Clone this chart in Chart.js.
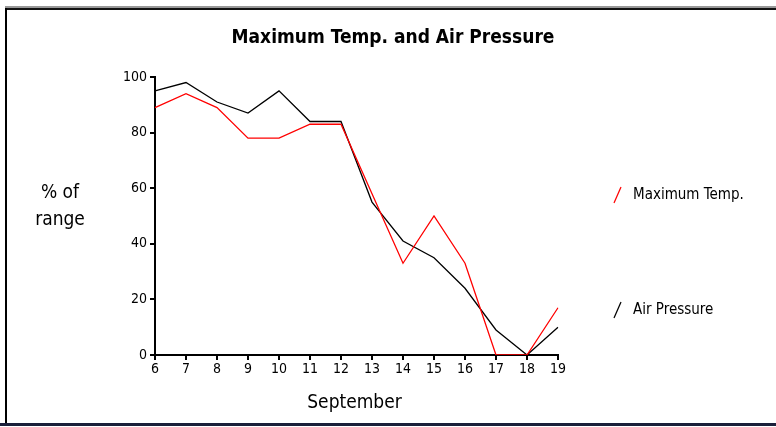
<!DOCTYPE html>
<html>
<head>
<meta charset="utf-8">
<script src="https://cdn.jsdelivr.net/npm/chart.js@4"></script>
<style>
  html, body { margin: 0; padding: 0; background: #fff; overflow: hidden; }
  #wrap { position: relative; width: 776px; height: 427px; overflow: hidden; }
  .rule { position: absolute; }
  #topgray { left: 5px; width: 771px; top: 6px; height: 2px; background: #999; }
  #top { left: 5px; width: 771px; top: 8px; height: 2px; background: #111; }
  #left { left: 5px; width: 2px; top: 8px; height: 416px; background: #000; }
  #bottom { left: 0; width: 776px; top: 423px; height: 3px; background: #1a1f3a; }
  canvas { position: absolute; left: 0; top: 0; }
</style>
</head>
<body>
<div id="wrap">
  <div class="rule" id="topgray"></div>
  <div class="rule" id="top"></div>
  <div class="rule" id="left"></div>
  <div class="rule" id="bottom"></div>
  <canvas id="chart" width="776" height="427"></canvas>
</div>
<script>
// Data (% of range)
const days = ['6', '7', '8', '9', '10', '11', '12', '13', '14', '15', '16', '17', '18', '19'];
const maxTemp = [89, 94, 89, 78, 78, 83, 83, 58, 33, 50, 33, 0, 0, 17];
const airPressure = [95, 98, 91, 87, 95, 84, 84, 55, 41, 35, 24, 9, 0, 10];
const yTicks = [0, 20, 40, 60, 80, 100];

const chartTitle = 'Maximum Temp. and Air Pressure';
const xTitle = 'September';
const yTitle = ['% of', 'range'];
const FONT = '"Liberation Sans Narrow", "DejaVu Sans Condensed", Arial, sans-serif';

// Title, axis labels and the slash legend are drawn by hand
const decorations = {
    id: 'decorations',
    afterDraw(chart) {
        const c = chart.ctx;
        const area = chart.chartArea;
        c.save();
        c.fillStyle = '#000';
        c.textAlign = 'center';
        c.textBaseline = 'middle';
        c.font = 'bold 19px ' + FONT;
        c.fillText(chartTitle, 393, 38);

        c.font = '19px ' + FONT;
        c.fillText(xTitle, (area.left + area.right) / 2 - 2, 403);
        c.fillText(yTitle[0], 60, 193);
        c.fillText(yTitle[1], 60, 220);

        // legend
        c.textAlign = 'left';
        c.font = '15px ' + FONT;
        const rows = [195, 310];
        chart.data.datasets.forEach((ds, i) => {
            const y = rows[i];
            c.strokeStyle = ds.borderColor;
            c.lineWidth = 1.2;
            c.beginPath();
            c.moveTo(614, y + 8);
            c.lineTo(621, y - 8);
            c.stroke();
            c.fillText(ds.label, 633, y);
        });
        c.restore();
    }
};

new Chart(document.getElementById('chart'), {
    type: 'line',
    data: {
        labels: days,
        datasets: [
            {
                label: 'Maximum Temp.',
                data: maxTemp,
                borderColor: '#ff0000',
                borderWidth: 1.3,
                pointRadius: 0,
                tension: 0
            },
            {
                label: 'Air Pressure',
                data: airPressure,
                borderColor: '#000000',
                borderWidth: 1.3,
                pointRadius: 0,
                tension: 0
            }
        ]
    },
    options: {
        responsive: false,
        animation: false,
        layout: { padding: { left: 0, right: 218, top: 77, bottom: 0 } },
        plugins: {
            legend: { display: false },
            title: { display: false },
            tooltip: { enabled: false }
        },
        scales: {
            x: {
                offset: false,
                afterFit(scale) { scale.height = 72; },
                border: { color: '#000', width: 2 },
                grid: { drawOnChartArea: false, color: '#000', tickLength: 5, lineWidth: 2 },
                ticks: { color: '#000', font: { family: FONT, size: 14 }, padding: 1, maxRotation: 0 }
            },
            y: {
                min: 0,
                max: 100,
                afterFit(scale) { scale.width = 155; },
                afterBuildTicks(scale) { scale.ticks = yTicks.map(v => ({ value: v })); },
                border: { color: '#000', width: 2 },
                grid: { drawOnChartArea: false, color: '#000', tickLength: 5, lineWidth: 2 },
                ticks: { color: '#000', font: { family: FONT, size: 14 }, padding: 3 }
            }
        }
    },
    plugins: [decorations]
});
</script>
</body>
</html>
